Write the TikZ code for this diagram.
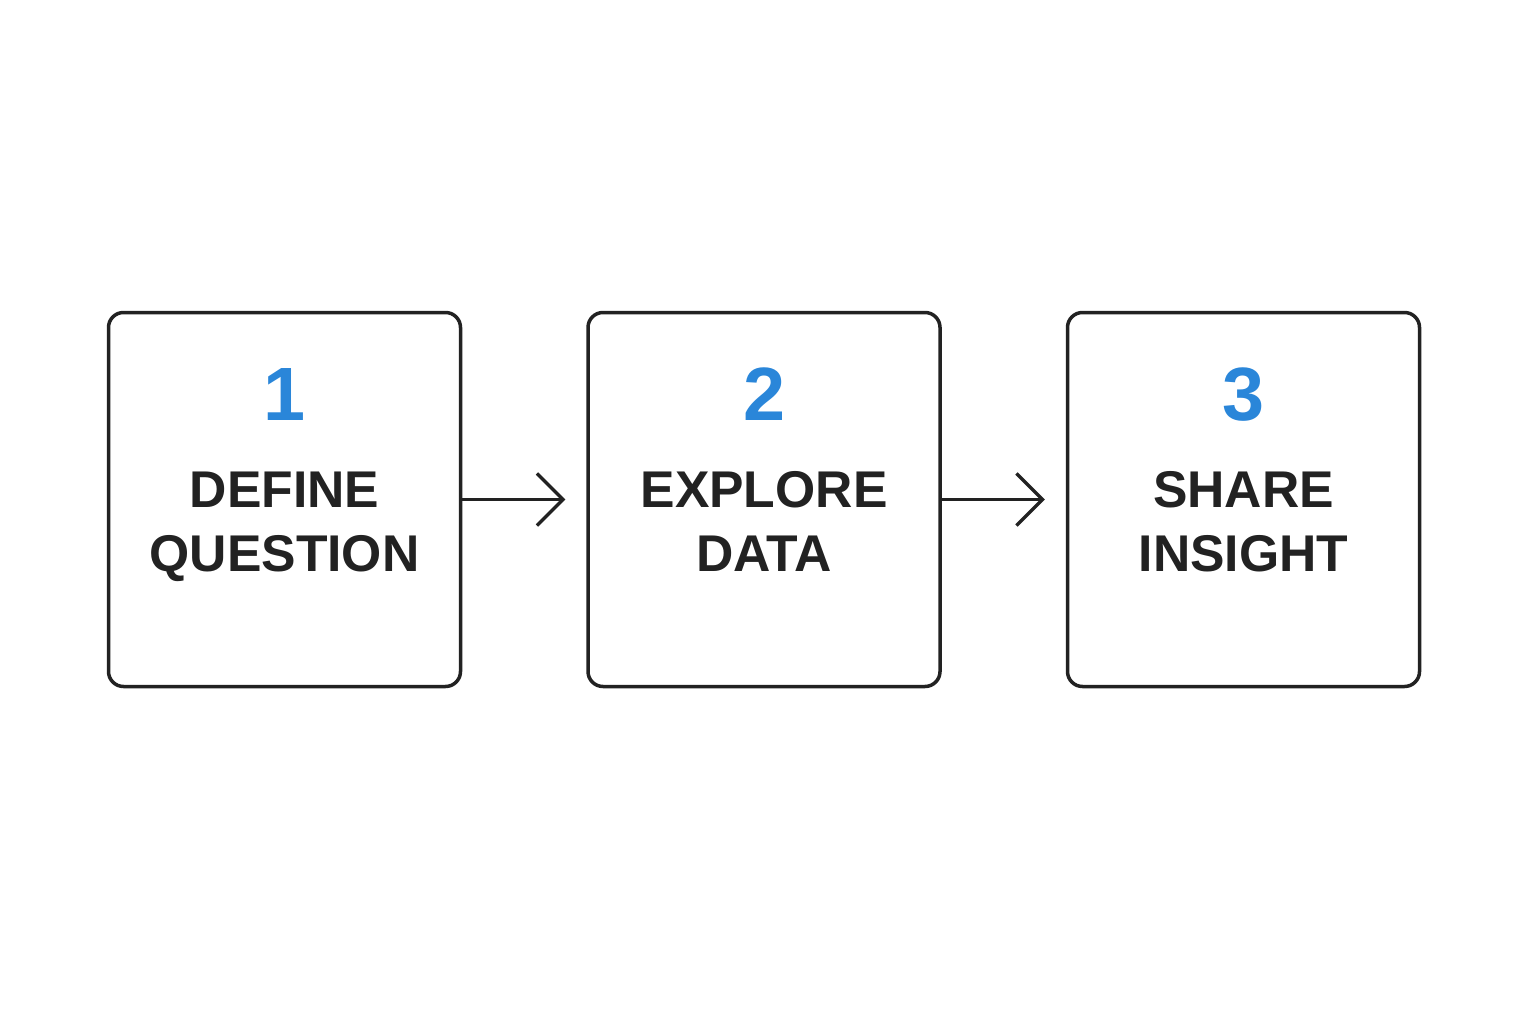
\documentclass[tikz,border=0pt]{standalone}
\usepackage{fontspec}
\setmainfont{Liberation Sans}
\usetikzlibrary{arrows.meta, positioning}
\definecolor{numblue}{RGB}{42,134,217}
\definecolor{inkgray}{RGB}{34,34,34}

\begin{document}
\begin{tikzpicture}[
  node distance=1.24cm,
  stepbox/.style={rectangle, rounded corners=0.15cm, draw=inkgray, line width=0.035cm,
    minimum width=3.52cm, minimum height=3.74cm},
  num/.style={text=numblue, font=\fontsize{21.5}{24}\selectfont\bfseries},
  label/.style={text=inkgray, align=center, inner sep=0pt, anchor=north,
    font=\fontsize{14.7}{18.2}\selectfont\bfseries},
  arrow/.style={-{Straight Barb[length=0.26cm, width=0.52cm, line width=0.033cm]},
    line width=0.033cm, inkgray, shorten >=0.21cm}
]
\useasboundingbox (0,0) rectangle (15.36,10.24);

% Row of boxes
\node[stepbox] (B1) at (2.845,5.245) {};
\node[stepbox, right=of B1] (B2) {};
\node[stepbox, right=of B2] (B3) {};

% Arrows between boxes
\foreach \i/\j in {B1/B2, B2/B3} {
  \draw[arrow] (\i) -- (\j);
}

% Step numbers
\node[num] (N1) at ([yshift=1.05cm]B1.center) {1};
\node[num] (N2) at ([yshift=1.05cm]B2.center) {2};
\node[num] (N3) at ([yshift=1.05cm]B3.center) {3};

% Step names
\node[label] (L1) at ([yshift=0.285cm]B1.center) {DEFINE\\QUESTION};
\node[label] (L2) at ([yshift=0.285cm]B2.center) {EXPLORE\\DATA};
\node[label] (L3) at ([yshift=0.285cm]B3.center) {SHARE\\INSIGHT};

\end{tikzpicture}
\end{document}
